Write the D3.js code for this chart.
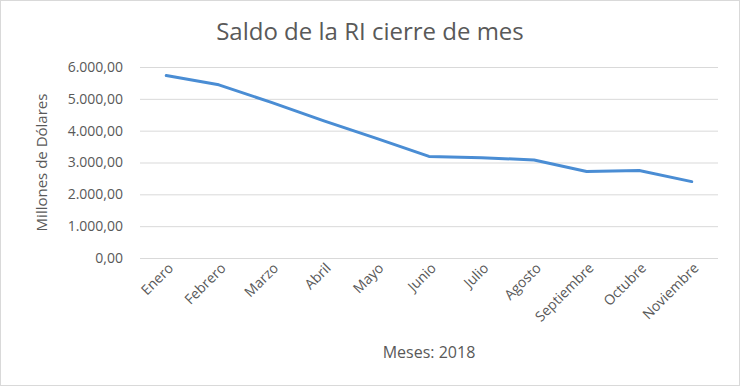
<!DOCTYPE html>
<html>
<head>
    <title>Saldo de la RI cierre de mes</title>
    <script src="https://cdnjs.cloudflare.com/ajax/libs/d3/7.8.5/d3.min.js"></script>
    <style>
        body { margin: 0; background: #fff; }
        .grid line { stroke: #d9d9d9; stroke-width: 1; }
        .grid path { display: none; }
        text { font-family: "Open Sans", "Noto Sans", sans-serif; fill: #595959; }
    </style>
</head>
<body>
    <div id="chart"></div>
    <script>
        // Datos
        const meses = ['Enero', 'Febrero', 'Marzo', 'Abril', 'Mayo', 'Junio', 'Julio',
                       'Agosto', 'Septiembre', 'Octubre', 'Noviembre'];
        const saldo = [5730, 5440, 4890, 4310, 3760, 3190, 3150, 3080, 2720, 2750, 2400];
        const yTicks = [0, 1000, 2000, 3000, 4000, 5000, 6000];

        const W = 740, H = 386;
        const margin = { top: 67, right: 22, bottom: 128, left: 140 };
        const width = W - margin.left - margin.right;
        const height = H - margin.top - margin.bottom;

        const root = d3.select('#chart').append('svg')
            .attr('width', W)
            .attr('height', H);

        // borde del area del grafico
        root.append('rect')
            .attr('x', 0.5).attr('y', 0.5)
            .attr('width', W - 1).attr('height', H - 1)
            .attr('fill', '#fff')
            .attr('stroke', '#d9d9d9');

        const svg = root.append('g')
            .attr('transform', `translate(${margin.left},${margin.top})`);

        const x = d3.scaleBand().domain(meses).range([0, width]);
        const y = d3.scaleLinear().domain([0, 6000]).range([height, 0]);

        const fmt = v => d3.format(',.2f')(v).replace(/,/g, '#').replace('.', ',').replace(/#/g, '.');

        // lineas de cuadricula
        svg.append('g')
            .attr('class', 'grid')
            .call(d3.axisLeft(y).tickValues(yTicks).tickSize(-width).tickFormat(''));

        // etiquetas eje Y
        svg.append('g')
            .call(d3.axisLeft(y).tickValues(yTicks).tickSize(0).tickPadding(17).tickFormat(fmt))
            .call(g => g.select('.domain').remove())
            .selectAll('text')
            .style('font-size', '14px')
            .attr('fill', '#595959');

        // etiquetas eje X
        svg.append('g')
            .attr('transform', `translate(0,${height})`)
            .call(d3.axisBottom(x).tickSize(0).tickPadding(0))
            .call(g => g.select('.domain').remove())
            .selectAll('text')
            .style('font-size', '14px')
            .attr('fill', '#595959')
            .style('text-anchor', 'end')
            .attr('dx', '0.1em')
            .attr('dy', '0.9em')
            .attr('transform', 'translate(-2,3) rotate(-45)');

        // serie
        const line = d3.line()
            .x((d, i) => x(meses[i]) + x.bandwidth() / 2)
            .y(d => y(d));

        svg.append('path')
            .datum(saldo)
            .attr('fill', 'none')
            .attr('stroke', '#4a8dd4')
            .attr('stroke-width', 3)
            .attr('stroke-linejoin', 'round')
            .attr('stroke-linecap', 'round')
            .attr('d', line);

        // titulo
        root.append('text')
            .attr('x', W / 2)
            .attr('y', 40)
            .attr('text-anchor', 'middle')
            .style('font-size', '24px')
            .attr('fill', '#404040')
            .text('Saldo de la RI cierre de mes');

        // titulo eje Y
        root.append('text')
            .attr('transform', `translate(47,${margin.top + height / 2}) rotate(-90)`)
            .attr('text-anchor', 'middle')
            .style('font-size', '15px')
            .attr('fill', '#404040')
            .text('Millones de Dólares');

        // titulo eje X
        root.append('text')
            .attr('x', margin.left + width / 2)
            .attr('y', 358)
            .attr('text-anchor', 'middle')
            .style('font-size', '16px')
            .attr('fill', '#595959')
            .text('Meses: 2018');
    </script>
</body>
</html>
